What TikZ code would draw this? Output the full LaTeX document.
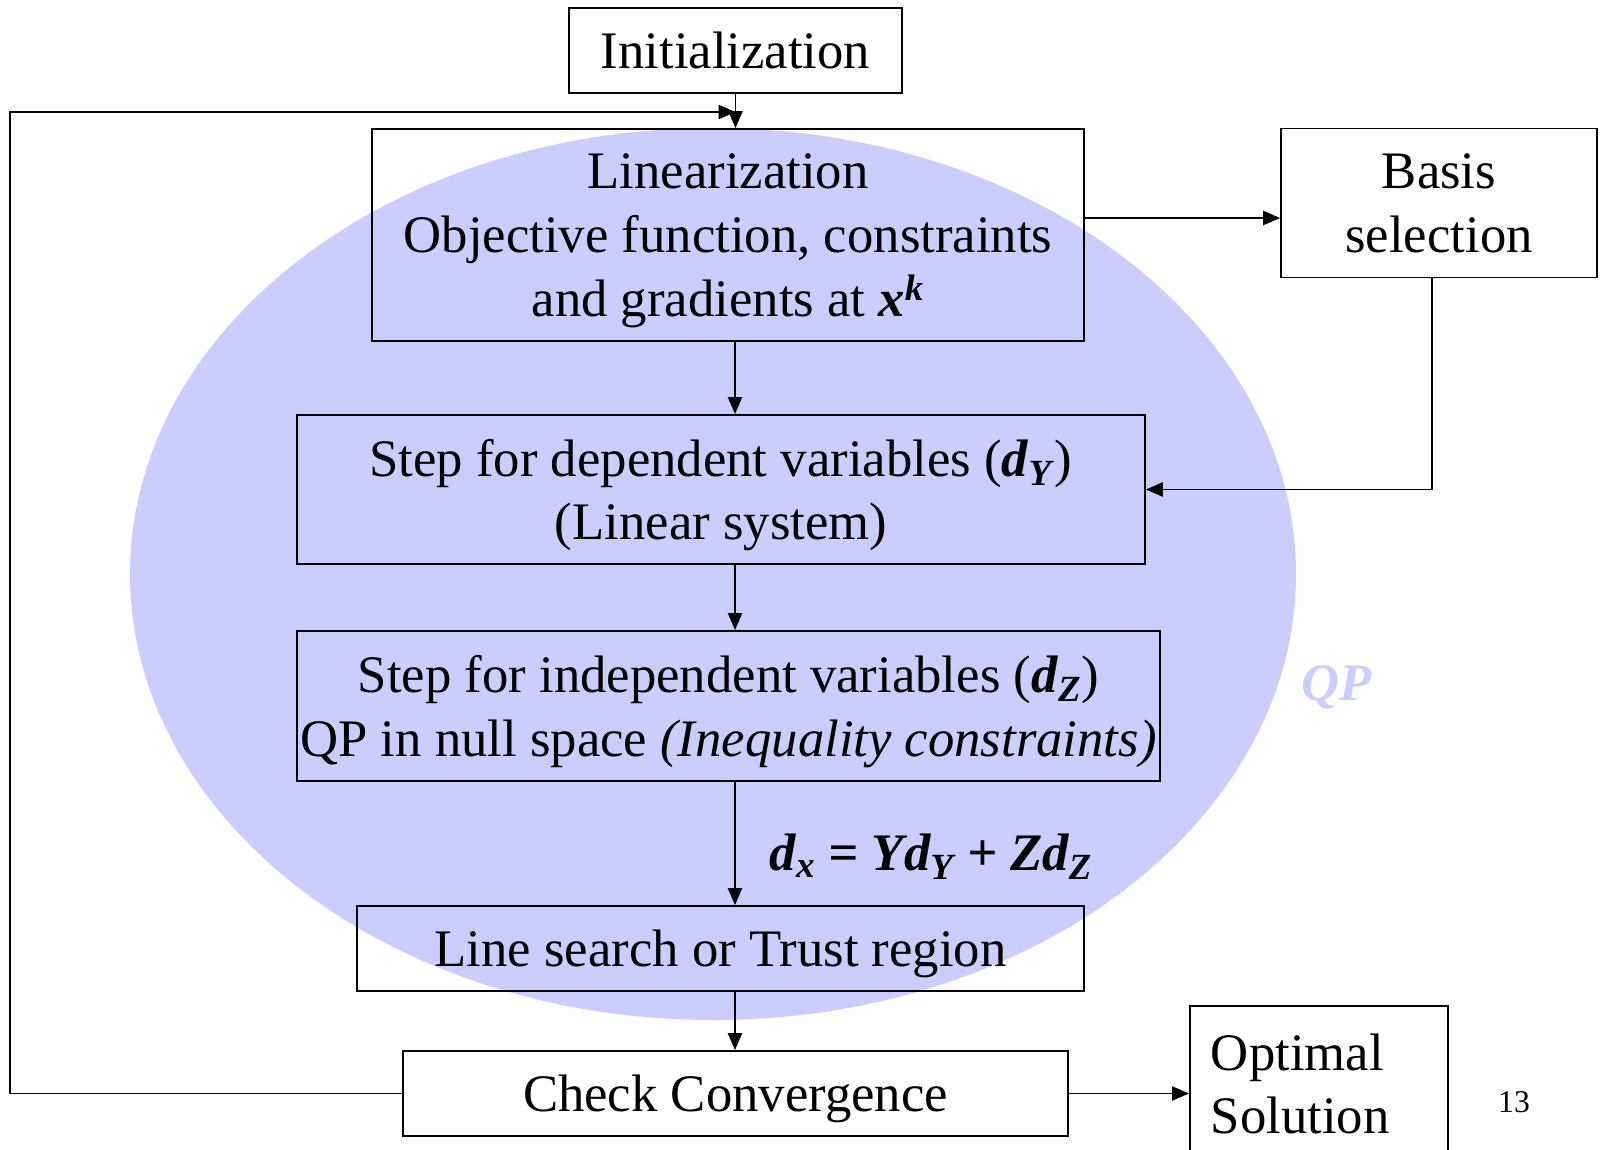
\documentclass[tikz,border=0pt]{standalone}
\usepackage{fontspec}
\setmainfont{Liberation Serif}
\usetikzlibrary{arrows.meta}

\definecolor{qpfill}{RGB}{204,204,255}
\newcommand{\bi}[1]{\textbf{\textit{#1}}}

\tikzset{
	frame/.style={draw,line width=1.1pt,inner sep=0pt,font=\fontsize{30}{36.3}\selectfont},
	box/.style={frame,align=center,text depth=-2pt},
	arr/.style={line width=1.1pt,-{Triangle[length=9.6pt,width=8pt]}}
}

\begin{document}
\begin{tikzpicture}[x=0.02cm,y=-0.02cm]
	\clip (0,0) rectangle (1600,1150);
	\fill[qpfill] (713,574) ellipse (583 and 446);
	
	\node[box,minimum width=6.66cm,minimum height=1.7cm] (init) at (735.5,50.5) {Initialization};
	\node[box,minimum width=14.24cm,minimum height=4.24cm] (lin) at (728,235)
		{Linearization\\Objective function, constraints\\and gradients at \bi{x}\textsuperscript{\bi{k}}};
	\node[box,minimum width=6.32cm,minimum height=2.98cm] (basis) at (1439,203) {Basis\\selection};
	\node[box,minimum width=16.96cm,minimum height=2.98cm] (dep) at (721,489.5)
		{Step for dependent variables (\bi{d}\textsubscript{\bi{Y}})\\(Linear system)};
	\node[box,minimum width=17.26cm,minimum height=3cm] (indep) at (728.5,706)
		{Step for independent variables (\bi{d}\textsubscript{\bi{Z}})\\QP in null space \textit{(Inequality constraints)}};
	\node[box,minimum width=14.54cm,minimum height=1.7cm] (ls) at (720.5,948.5) {Line search or Trust region};
	\node[box,minimum width=13.3cm,minimum height=1.7cm] (conv) at (735.5,1093.5) {Check Convergence};
	\node[frame,anchor=north west,minimum width=5.16cm,minimum height=3.12cm,align=left,
		text width=4.32cm,inner xsep=0.42cm] (opt) at (1189,1005) {Optimal\\Solution};
	
	\node[text=qpfill,font=\fontsize{30}{36}\selectfont\bfseries\itshape] (qp) at (1337,687) {QP};
	\node[font=\fontsize{30}{36}\selectfont\bfseries\itshape] (dx) at (931,857)
		{d\textsubscript{x} = Yd\textsubscript{Y} + Zd\textsubscript{Z}};
	\node[font=\fontsize{18}{22}\selectfont] (page) at (1514,1102) {13};
	
	\coordinate (spine) at (735,0);
	\coordinate (merge) at (init.south |- 0,112);
	
	\draw[arr] (init.south) -- (init.south |- lin.north);
	\draw[arr] (conv.west) -| (10,112) -- (merge);
	\draw[arr] (lin.south -| spine) -- (dep.north -| spine);
	\draw[arr] (dep.south -| spine) -- (indep.north -| spine);
	\draw[arr] (indep.south -| spine) -- (ls.north -| spine);
	\draw[arr] (ls.south -| spine) -- (conv.north -| spine);
	\draw[arr] (lin.east |- 0,218) -- (basis.west |- 0,218);
	\draw[arr] (basis.south -| 1432,0) |- (dep.east);
	\draw[arr] (conv.east) -- (conv.east -| opt.west);
\end{tikzpicture}
\end{document}
